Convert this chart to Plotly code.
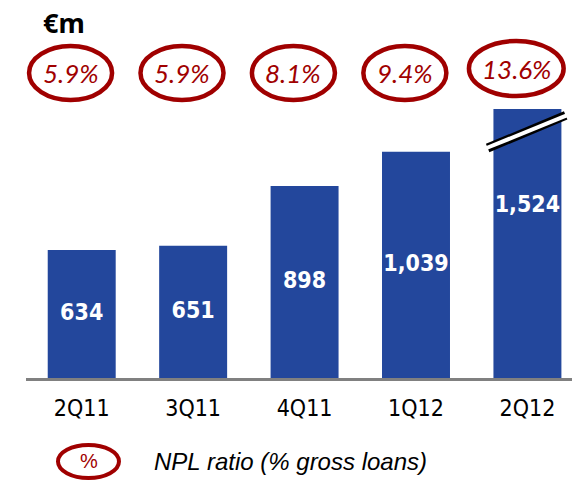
import plotly.graph_objects as go

# ---- data ----
quarters = ["2Q11", "3Q11", "4Q11", "1Q12", "2Q12"]
npl_eur_m = [634, 651, 898, 1039, 1524]
npl_ratio_pct = [5.9, 5.9, 8.1, 9.4, 13.6]
bar_labels = [f"{v:,}" for v in npl_eur_m]
ratio_labels = [f"{p:.1f}%" for p in npl_ratio_pct]

BLUE = "#23479C"
RED = "#A00000"
TICK_FONT = "'DejaVu Sans Condensed', 'Noto Sans', sans-serif"
Y_MIN, Y_MAX = 105, 1216

xs = list(range(len(quarters)))

fig = go.Figure()
fig.add_trace(go.Bar(
    x=xs, y=npl_eur_m, width=0.61,
    marker=dict(color=BLUE, line=dict(width=0)),
    hoverinfo="skip",
))
# value labels, centred on the visible part of each bar
fig.add_trace(go.Scatter(
    x=xs, y=[(v + Y_MIN) / 2 for v in npl_eur_m],
    mode="text", text=bar_labels, textposition="middle center",
    textfont=dict(family=TICK_FONT, size=23, color="white", weight="bold"),
    cliponaxis=False, hoverinfo="skip",
))

shapes = []
annotations = []

# NPL ratio ellipses above bars
for i, lab in enumerate(ratio_labels):
    cx = i - 0.1
    half_w = (0.745 if len(lab) <= 4 else 0.85) / 2
    y0, y1 = (1.033, 1.234) if len(lab) <= 4 else (1.048, 1.253)
    shapes.append(dict(type="circle", xref="x", yref="paper",
                       x0=cx - half_w, x1=cx + half_w, y0=y0, y1=y1,
                       line=dict(color=RED, width=4.5), fillcolor="rgba(0,0,0,0)"))
    annotations.append(dict(x=cx, y=(y0 + y1) / 2, xref="x", yref="paper",
                            text=lab, showarrow=False,
                            font=dict(family="Lato, 'Open Sans', sans-serif", size=26,
                                      color=RED, style="italic"),
                            xanchor="center", yanchor="middle"))

# axis break on last bar
bx0, bx1 = len(quarters) - 1 - 0.357, len(quarters) - 1 + 0.343
shapes.append(dict(type="line", xref="x", yref="paper", x0=bx0, x1=bx1,
                   y0=0.855, y1=0.976, line=dict(color="black", width=9)))
shapes.append(dict(type="line", xref="x", yref="paper", x0=bx0 - 0.01, x1=bx1 + 0.01,
                   y0=0.855, y1=0.976, line=dict(color="white", width=4)))

# legend
shapes.append(dict(type="circle", xref="paper", yref="paper",
                   x0=0.0586, x1=0.1703, y0=-0.372, y1=-0.249,
                   line=dict(color=RED, width=4), fillcolor="rgba(0,0,0,0)"))
annotations.append(dict(x=0.1145, y=-0.309, xref="paper", yref="paper", text="%",
                        showarrow=False, xanchor="center", yanchor="middle",
                        font=dict(family="'Liberation Sans', Arial, sans-serif", size=20, color=RED)))
annotations.append(dict(x=0.2308, y=-0.312, xref="paper", yref="paper",
                        text="NPL ratio (% gross loans)", showarrow=False,
                        xanchor="left", yanchor="middle",
                        font=dict(family="'Liberation Sans', Arial, sans-serif", size=24,
                                  color="black", style="italic")))
# unit label
annotations.append(dict(x=0.0696, y=1.32, xref="paper", yref="paper", text="<b>€m</b>",
                        showarrow=False, xanchor="center", yanchor="middle",
                        font=dict(family="'Noto Sans', sans-serif", size=27, color="black")))

fig.update_layout(
    width=572, height=484,
    margin=dict(l=26, r=0, t=109, b=106),
    paper_bgcolor="white", plot_bgcolor="white",
    showlegend=False,
    shapes=shapes, annotations=annotations,
    xaxis=dict(range=[-0.5, 4.4], tickvals=xs, ticktext=quarters,
               showgrid=False, zeroline=False, showline=True,
               linecolor="#808080", linewidth=3,
               ticks="outside", ticklen=7, tickcolor="rgba(0,0,0,0)",
               tickfont=dict(family=TICK_FONT, size=23, color="black")),
    yaxis=dict(range=[Y_MIN, Y_MAX], visible=False, showgrid=False, zeroline=False),
)

fig.write_html("out.html", config={"displayModeBar": False},
               post_script="document.body.style.margin='0';document.body.style.overflow='hidden';")
